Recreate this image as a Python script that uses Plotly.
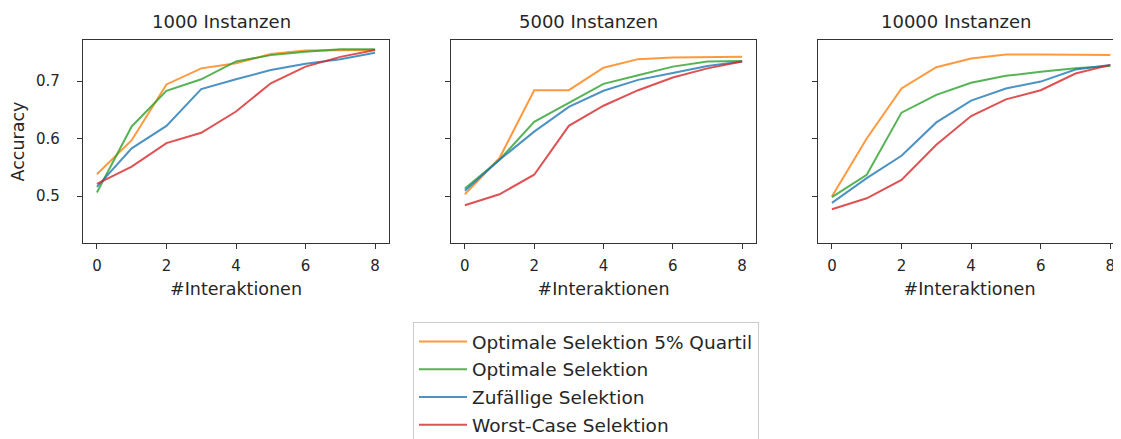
import plotly.graph_objects as go
from plotly.subplots import make_subplots

interaktionen = [0, 1, 2, 3, 4, 5, 6, 7, 8]
panel_titles = ["1000 Instanzen", "5000 Instanzen", "10000 Instanzen"]
series_names = ["Optimale Selektion 5% Quartil", "Optimale Selektion",
                "Zufällige Selektion", "Worst-Case Selektion"]

# 1000 Instanzen
opt5_1000 = [0.538, 0.597, 0.694, 0.722, 0.731, 0.747, 0.753, 0.754, 0.754]
opt_1000 = [0.506, 0.621, 0.683, 0.703, 0.734, 0.745, 0.751, 0.755, 0.755]
rand_1000 = [0.516, 0.583, 0.622, 0.686, 0.703, 0.719, 0.730, 0.738, 0.749]
worst_1000 = [0.521, 0.551, 0.592, 0.610, 0.647, 0.696, 0.725, 0.742, 0.754]

# 5000 Instanzen
opt5_5000 = [0.503, 0.566, 0.684, 0.684, 0.723, 0.738, 0.741, 0.742, 0.742]
opt_5000 = [0.513, 0.563, 0.629, 0.662, 0.695, 0.710, 0.725, 0.734, 0.735]
rand_5000 = [0.509, 0.563, 0.612, 0.655, 0.683, 0.702, 0.714, 0.726, 0.734]
worst_5000 = [0.484, 0.503, 0.537, 0.622, 0.657, 0.684, 0.706, 0.722, 0.734]

# 10000 Instanzen
opt5_10000 = [0.499, 0.600, 0.687, 0.724, 0.739, 0.746, 0.746, 0.745, 0.745]
opt_10000 = [0.498, 0.537, 0.645, 0.676, 0.697, 0.709, 0.716, 0.722, 0.726]
rand_10000 = [0.488, 0.531, 0.570, 0.628, 0.666, 0.687, 0.699, 0.720, 0.728]
worst_10000 = [0.477, 0.496, 0.528, 0.589, 0.639, 0.668, 0.684, 0.713, 0.728]

y_ticks = [0.5, 0.6, 0.7]
x_ticks = [0, 2, 4, 6, 8]

panels = [
    [opt5_1000, opt_1000, rand_1000, worst_1000],
    [opt5_5000, opt_5000, rand_5000, worst_5000],
    [opt5_10000, opt_10000, rand_10000, worst_10000],
]
colors = ["rgba(255,127,14,0.8)", "rgba(44,160,44,0.8)",
          "rgba(31,119,180,0.8)", "rgba(214,39,40,0.8)"]

OFF = 8  # page body margin
W, H = 1121 - OFF, 439 - OFF
ML, MR, MT, MB = 83 - OFF, 0, 40 - OFF, 196
PW = W - ML - MR
PH = H - MT - MB

def px2dom(a, b):
    return [(a - 83) / PW, min(1.0, (b - 83) / PW)]

domains = [px2dom(83, 389), px2dom(451, 756), px2dom(818, 1121)]
x_ranges = [[-0.4, 8.4], [-0.4, 8.4], [-0.4, -0.4 + 303 / 34.8]]
y_range = [0.4183, 0.7713]

fig = make_subplots(rows=1, cols=3, shared_yaxes=False)
FONT = "DejaVu Sans"
TXT = "#262626"

for p, series in enumerate(panels):
    for s, vals in enumerate(series):
        fig.add_trace(go.Scatter(
            x=interaktionen, y=vals, mode="lines",
            name=series_names[s], legendgroup=series_names[s],
            showlegend=(p == 0),
            line=dict(color=colors[s], width=2),
        ), row=1, col=p + 1)

for p in range(3):
    xa = "xaxis" if p == 0 else f"xaxis{p+1}"
    ya = "yaxis" if p == 0 else f"yaxis{p+1}"
    fig.layout[xa].update(
        domain=domains[p], range=x_ranges[p], tickvals=x_ticks,
        showgrid=False, zeroline=False, showline=True, linecolor="#333",
        linewidth=1.2, mirror=True, ticks="outside", ticklen=5,
        tickcolor="#333", tickfont=dict(size=15, color=TXT, family=FONT),
        ticklabelstandoff=4,
        title=dict(text="#Interaktionen", font=dict(size=17.5, color=TXT, family=FONT),
                   standoff=8),
    )
    fig.layout[ya].update(
        domain=[0, 1], range=y_range, tickvals=y_ticks,
        ticktext=(["0.5", "0.6", "0.7"] if p == 0 else ["", "", ""]),
        showgrid=False, zeroline=False, showline=True, linecolor="#333",
        linewidth=1.2, mirror=(p < 2), ticks="outside", ticklen=5,
        tickcolor="#333", tickfont=dict(size=15, color=TXT, family=FONT),
        ticklabelstandoff=14,
    )

fig.layout.yaxis.title = dict(text="Accuracy", font=dict(size=17.5, color=TXT, family=FONT),
                              standoff=8)

title_x_px = [221, 588, 956]
for t, xpx in zip(panel_titles, title_x_px):
    fig.add_annotation(text=t, x=(xpx - 83) / PW, y=1, xref="paper", yref="paper",
                       xanchor="center", yanchor="bottom", yshift=6, showarrow=False,
                       font=dict(size=18, color=TXT, family=FONT))

fig.update_layout(
    width=W, height=H,
    margin=dict(l=ML, r=MR, t=MT, b=MB, autoexpand=False),
    paper_bgcolor="white", plot_bgcolor="white",
    font=dict(family=FONT, color=TXT),
    legend=dict(
        x=(413 - 83) / PW, y=(243 - 322) / PH,
        xanchor="left", yanchor="top",
        bordercolor="#cccccc", borderwidth=1, bgcolor="white",
        font=dict(size=18.5, color=TXT, family=FONT),
        tracegroupgap=0.7, itemwidth=48,
    ),
)

fig.write_html("out.html")
